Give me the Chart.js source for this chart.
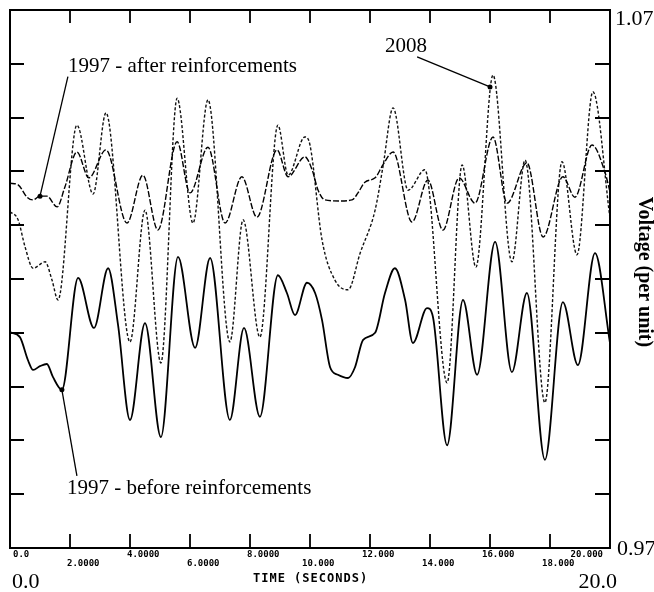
<!DOCTYPE html>
<html>
<head>
<meta charset="utf-8">
<script src="https://cdn.jsdelivr.net/npm/chart.js@4.4.0/dist/chart.umd.min.js"></script>
<style>
    html, body { margin: 0; padding: 0; background: #fff; }
    #wrap { width: 654px; height: 592px; }
</style>
</head>
<body>
<div id="wrap"><canvas id="voltChart" width="654" height="592"></canvas></div>
<script>
// 1997 - before reinforcements (solid)
const beforeT = [0, 0.33, 0.6, 0.77, 1.0, 1.23, 1.43, 1.73, 2.27, 2.8, 3.27, 3.6, 4.0, 4.5, 5.03, 5.6, 6.17, 6.67, 7.33, 7.8, 8.33, 8.93, 9.23, 9.5, 9.9, 10.17, 10.4, 10.67, 10.93, 11.27, 11.5, 11.77, 12.17, 12.5, 12.83, 13.17, 13.43, 13.9, 14.1, 14.57, 15.1, 15.57, 16.17, 16.73, 17.23, 17.83, 18.43, 18.93, 19.5, 20.0];
const beforeV = [1.0101, 1.0092, 1.0049, 1.0031, 1.0038, 1.0042, 1.0018, 0.9994, 1.0202, 1.0109, 1.0220, 1.0115, 0.9938, 1.0118, 0.9906, 1.0241, 1.0072, 1.0239, 0.9938, 1.0109, 0.9944, 1.0207, 1.0174, 1.0133, 1.0193, 1.0174, 1.0124, 1.0036, 1.0022, 1.0016, 1.0036, 1.0087, 1.0100, 1.0174, 1.0220, 1.0161, 1.0081, 1.0146, 1.0129, 0.9891, 1.0161, 1.0022, 1.0269, 1.0027, 1.0174, 0.9864, 1.0157, 1.0040, 1.0248, 1.0081];

// 1997 - after reinforcements (dashed)
const afterT = [0, 0.27, 0.57, 0.77, 1.0, 1.23, 1.57, 1.83, 2.23, 2.63, 3.2, 3.9, 4.43, 4.93, 5.57, 6.0, 6.6, 7.17, 7.73, 8.23, 8.9, 9.27, 9.83, 10.07, 10.27, 10.5, 11.0, 11.4, 11.6, 11.83, 12.17, 12.43, 12.77, 13.4, 13.93, 14.43, 14.97, 15.5, 16.1, 16.57, 17.23, 17.77, 18.43, 18.83, 19.4, 19.83, 20.0];
const afterV = [1.0378, 1.0375, 1.0352, 1.0347, 1.0354, 1.0354, 1.0334, 1.0371, 1.0436, 1.0388, 1.0440, 1.0304, 1.0393, 1.0291, 1.0455, 1.0360, 1.0445, 1.0304, 1.0390, 1.0315, 1.0440, 1.0390, 1.0427, 1.0403, 1.0365, 1.0347, 1.0345, 1.0347, 1.0360, 1.0380, 1.0388, 1.0412, 1.0436, 1.0306, 1.0384, 1.0291, 1.0388, 1.0341, 1.0464, 1.0341, 1.0416, 1.0278, 1.0390, 1.0352, 1.0449, 1.0399, 1.0362];

// 2008 (dotted)
const y2008T = [0, 0.27, 0.5, 0.77, 1.17, 1.4, 1.6, 2.23, 2.77, 3.2, 4.0, 4.5, 5.03, 5.57, 6.1, 6.6, 7.33, 7.77, 8.33, 8.93, 9.27, 9.83, 10.0, 10.4, 10.83, 11.27, 11.67, 12.17, 12.43, 12.77, 13.27, 13.83, 14.57, 15.07, 15.53, 16.1, 16.73, 17.17, 17.83, 18.4, 18.9, 19.43, 20.0];
const y2008V = [1.0325, 1.0310, 1.0260, 1.0220, 1.0232, 1.0198, 1.0161, 1.0486, 1.0358, 1.0509, 1.0083, 1.0328, 1.0044, 1.0536, 1.0304, 1.0533, 1.0083, 1.0310, 1.0092, 1.0486, 1.0393, 1.0464, 1.0449, 1.0273, 1.0198, 1.0180, 1.0248, 1.0328, 1.0408, 1.0518, 1.0365, 1.0403, 1.0007, 1.0412, 1.0222, 1.0579, 1.0232, 1.0421, 0.9970, 1.0418, 1.0245, 1.0548, 1.0313];

const xTicks = [0, 2, 4, 6, 8, 10, 12, 14, 16, 18, 20];
const xTickLabels = ["0.0", "2.0000", "4.0000", "6.0000", "8.0000", "10.000", "12.000", "14.000", "16.000", "18.000", "20.000"];
const yTicks = [0.98, 0.99, 1.00, 1.01, 1.02, 1.03, 1.04, 1.05, 1.06];
const yRangeLabels = ["1.07", "0.97"];
const xRangeLabels = ["0.0", "20.0"];

// label text, text anchor (t, v), pointer start (t, v), pointer end on the curve (t, v)
const notes = [
    { text: "1997 - after reinforcements", at: [1.93, 1.0585], from: [1.93, 1.0576], to: [1.0, 1.0354] },
    { text: "2008", at: [12.5, 1.0622], from: [13.57, 1.0613], to: [16.0, 1.0557] },
    { text: "1997 - before reinforcements", at: [1.9, 0.9800], from: [2.23, 0.9834], to: [1.73, 0.9994] }
];

const toPoints = (ts, vs) => ts.map((t, i) => ({ x: t, y: vs[i] }));

const framePlugin = {
    id: "frame",
    afterDraw(chart) {
        const { ctx, chartArea: a, scales: { x, y } } = chart;
        ctx.save();

        // box
        ctx.strokeStyle = "#000";
        ctx.lineWidth = 2;
        ctx.strokeRect(a.left, a.top, a.right - a.left, a.bottom - a.top);

        // inside ticks
        ctx.lineWidth = 1.8;
        ctx.beginPath();
        yTicks.forEach(v => {
            const py = Math.round(y.getPixelForValue(v));
            ctx.moveTo(a.left, py); ctx.lineTo(a.left + 14, py);
            ctx.moveTo(a.right, py); ctx.lineTo(a.right - 15, py);
        });
        xTicks.slice(1, -1).forEach(t => {
            const px = Math.round(x.getPixelForValue(t));
            ctx.moveTo(px, a.top); ctx.lineTo(px, a.top + 13);
            ctx.moveTo(px, a.bottom); ctx.lineTo(px, a.bottom - 14);
        });
        ctx.stroke();

        // small tick labels, two staggered rows
        ctx.fillStyle = "#000";
        ctx.font = "bold 9px 'DejaVu Sans Mono'";
        ctx.textBaseline = "alphabetic";
        xTicks.forEach((t, i) => {
            const px = x.getPixelForValue(t);
            const row = i % 2 === 0 ? a.bottom + 9 : a.bottom + 18;
            if (i === 0) {
                ctx.textAlign = "left";
                ctx.fillText(xTickLabels[i], px + 3, row);
            } else if (i === xTicks.length - 1) {
                ctx.textAlign = "right";
                ctx.fillText(xTickLabels[i], px - 7, row);
            } else {
                ctx.textAlign = "left";
                ctx.fillText(xTickLabels[i], px - (t >= 10 ? 8 : 3), row);
            }
        });

        // axis title
        ctx.font = "bold 12px 'DejaVu Sans Mono'";
        ctx.letterSpacing = "1px";
        ctx.textAlign = "left";
        ctx.fillText("TIME (SECONDS)", 253, a.bottom + 34);
        ctx.letterSpacing = "0px";

        // range labels
        ctx.font = "22px 'Liberation Serif'";
        ctx.textAlign = "left";
        ctx.fillText(yRangeLabels[0], a.right + 5, a.top + 15);
        ctx.fillText(yRangeLabels[1], a.right + 7, a.bottom + 7);
        ctx.fillText(xRangeLabels[0], a.left + 2, a.bottom + 40);
        ctx.textAlign = "right";
        ctx.fillText(xRangeLabels[1], a.right + 7, a.bottom + 40);

        // y title
        ctx.save();
        ctx.translate(a.right + 34, (a.top + a.bottom) / 2 - 7);
        ctx.rotate(Math.PI / 2);
        ctx.font = "bold 20px 'Liberation Serif'";
        ctx.textAlign = "center";
        ctx.textBaseline = "middle";
        ctx.fillText("Voltage (per unit)", 0, 0);
        ctx.restore();

        // annotations
        ctx.font = "21px 'Liberation Serif'";
        ctx.textAlign = "left";
        ctx.lineWidth = 1.3;
        notes.forEach(n => {
            ctx.fillText(n.text, x.getPixelForValue(n.at[0]), y.getPixelForValue(n.at[1]));
            const ex = x.getPixelForValue(n.to[0]), ey = y.getPixelForValue(n.to[1]);
            ctx.beginPath();
            ctx.moveTo(x.getPixelForValue(n.from[0]), y.getPixelForValue(n.from[1]));
            ctx.lineTo(ex, ey);
            ctx.stroke();
            ctx.beginPath();
            ctx.arc(ex, ey, 2.5, 0, Math.PI * 2);
            ctx.fill();
        });

        ctx.restore();
    }
};

new Chart(document.getElementById("voltChart").getContext("2d"), {
    type: "line",
    data: {
        datasets: [
            {
                label: "1997 - before reinforcements",
                data: toPoints(beforeT, beforeV),
                borderColor: "#000",
                borderWidth: 1.8
            },
            {
                label: "1997 - after reinforcements",
                data: toPoints(afterT, afterV),
                borderColor: "#000",
                borderWidth: 1.4,
                borderDash: [6, 2]
            },
            {
                label: "2008",
                data: toPoints(y2008T, y2008V),
                borderColor: "#111",
                borderWidth: 1.4,
                borderDash: [3, 2]
            }
        ]
    },
    options: {
        responsive: false,
        animation: false,
        devicePixelRatio: 1,
        layout: { padding: { left: 10, top: 10, right: 44, bottom: 44 } },
        elements: {
            point: { radius: 0 },
            line: { cubicInterpolationMode: "monotone", fill: false }
        },
        scales: {
            x: { type: "linear", min: 0, max: 20, display: false },
            y: { type: "linear", min: 0.97, max: 1.07, display: false }
        },
        plugins: {
            legend: { display: false },
            tooltip: { enabled: false }
        }
    },
    plugins: [framePlugin]
});
</script>
</body>
</html>
